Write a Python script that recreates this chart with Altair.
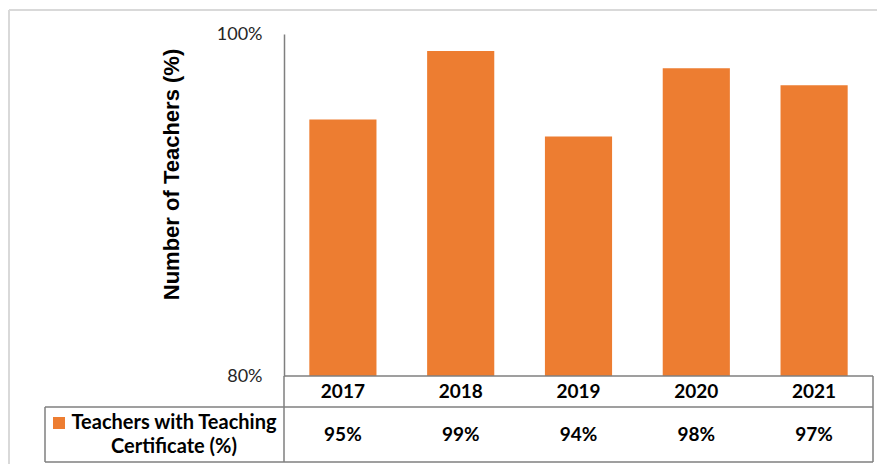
import altair as alt
import pandas as pd

# ---- data ----
years = ["2017", "2018", "2019", "2020", "2021"]
values = [95, 99, 94, 98, 97]
series_lines = ["Teachers with Teaching", "Certificate (%)"]
y_ticks = [80, 100]
y_title = "Number of Teachers (%)"

df = pd.DataFrame({"year": years, "value": values})

W, H = 589, 342
ORANGE = "#ED7D31"
LINE = "#7f7f7f"
FRAME = "#d9d9d9"

ROW1 = 373      # line between header row and value row (relative to plot top)
BOTTOM = 428    # bottom border of the data table
VAL_Y = (ROW1 + BOTTOM) / 2

xenc = alt.X("year:N", sort=years, axis=None,
             scale=alt.Scale(paddingInner=0.43, paddingOuter=0.215))

base = alt.Chart(df)

bars = base.mark_bar(color=ORANGE).encode(
    x=xenc,
    y=alt.Y("value:Q",
            scale=alt.Scale(domain=[80, 100], zero=False, nice=False),
            axis=alt.Axis(values=y_ticks, labelExpr="datum.value + '%'",
                          grid=False, ticks=False, domain=True,
                          domainColor=LINE, domainWidth=1.5,
                          labelPadding=22, labelFont="Lato", labelFontSize=18,
                          labelColor="#262626",
                          title=y_title, titleFont="Liberation Sans",
                          titleFontSize=22, titleFontWeight="bold",
                          titleColor="black", titleAngle=270,
                          titleX=-113, titleY=140,
                          titleAlign="center", titleBaseline="middle")),
    y2=alt.datum(80),
)

year_text = base.mark_text(font="Lato", fontSize=19, fontWeight="bold",
                           color="black", baseline="middle").encode(
    x=xenc, y=alt.value((H + ROW1) / 2), text="year:N")

value_text = base.transform_calculate(
    label="format(datum.value, 'd') + '%'"
).mark_text(font="Lato", fontSize=19, fontWeight="bold",
            color="black", baseline="middle").encode(
    x=xenc, y=alt.value(VAL_Y), text="label:N")

one = alt.Chart(pd.DataFrame({"k": [0]}))


def hrule(y, x1, x2, color=LINE, w=1.5):
    return one.mark_rule(color=color, strokeWidth=w).encode(
        x=alt.value(x1), x2=alt.value(x2), y=alt.value(y))


def vrule(x, y1, y2, color=LINE, w=1.5):
    return one.mark_rule(color=color, strokeWidth=w).encode(
        x=alt.value(x), y=alt.value(y1), y2=alt.value(y2))


rules = [
    hrule(H, 0, W),
    hrule(ROW1, -239, W),
    hrule(BOTTOM, -239, W),
    vrule(-239, ROW1, BOTTOM),
    vrule(0, H, BOTTOM),
    vrule(W, H, BOTTOM),
    vrule(-275, -24, 700, FRAME, 2),
    hrule(-24, -275, 900, FRAME, 2),
]

legend_sq = one.mark_square(color=ORANGE, size=144, opacity=1).encode(
    x=alt.value(-225), y=alt.value(VAL_Y - 11.5))


def legend_line(txt, y):
    return alt.Chart(pd.DataFrame({"t": [txt]})).mark_text(
        font="Lato", fontSize=20, fontWeight="bold", color="black",
        align="center", baseline="middle"
    ).encode(x=alt.value(-110), y=alt.value(y), text="t:N")


legend_txt = [legend_line(series_lines[0], VAL_Y - 11.5),
              legend_line(series_lines[1], VAL_Y + 12)]

chart = alt.layer(bars, year_text, value_text, *rules, legend_sq, *legend_txt).properties(
    width=W, height=H,
    autosize=alt.AutoSizeParams(type="none"),
    padding={"left": 276, "top": 26, "right": 4, "bottom": 88},
    background="white",
).configure_view(stroke=None)

chart.save("out.html", embed_options={"renderer": "svg", "actions": False})
